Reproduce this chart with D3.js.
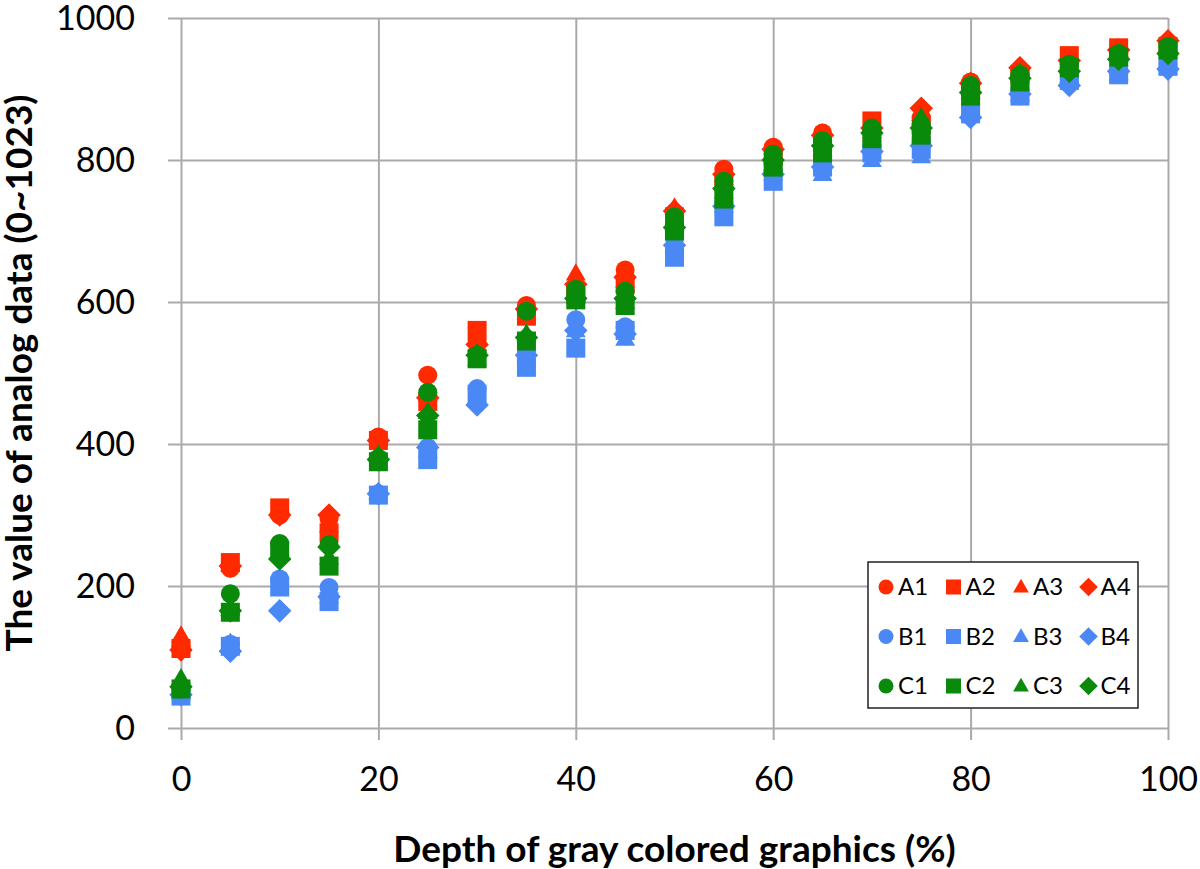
<!DOCTYPE html>
<html><head><meta charset="utf-8">
<script src="https://cdn.jsdelivr.net/npm/d3@7"></script>
<style>body{margin:0;background:#fff;} svg{display:block;}</style>
</head><body>
<svg id="chart" width="1200" height="869"></svg>
<script>
const depth = [0,5,10,15,20,25,30,35,40,45,50,55,60,65,70,75,80,85,90,95,100];
const A1 = [115,225,300,295,410,497,545,595,620,645,725,787,818,838,845,860,910,925,940,955,965];
const A2 = [112,233,310,275,405,460,560,580,610,625,720,770,805,825,855,850,900,920,947,958,960];
const A3 = [130,230,305,285,408,470,540,585,640,630,733,775,810,830,840,865,905,922,940,955,960];
const A4 = [110,228,300,300,405,465,540,590,625,635,728,780,815,835,845,873,908,930,940,955,968];
const B1 = [48,118,210,198,330,395,478,530,575,565,690,740,785,800,815,830,875,895,915,925,935];
const B2 = [45,115,200,178,328,378,470,508,535,560,663,720,770,790,810,815,865,890,912,920,932];
const B3 = [50,120,195,185,332,390,465,525,560,548,680,735,780,780,800,805,868,893,918,922,930];
const B4 = [47,108,165,185,330,395,455,525,560,555,680,735,780,790,812,820,860,893,905,925,928];
const C1 = [55,189,260,258,380,473,525,587,618,615,720,770,808,827,845,850,905,920,935,950,960];
const C2 = [55,163,250,228,375,420,520,545,603,595,700,745,790,810,830,835,890,910,930,945,955];
const C3 = [70,168,245,240,385,445,520,555,610,600,710,755,795,815,835,860,895,923,932,948,958];
const C4 = [58,165,238,255,378,440,525,550,605,605,705,760,800,820,838,845,895,915,925,942,950];
const seriesNames = ["A1","A2","A3","A4","B1","B2","B3","B4","C1","C2","C3","C4"];
const seriesValues = [A1,A2,A3,A4,B1,B2,B3,B4,C1,C2,C3,C4];
const xTicks = [0,20,40,60,80,100];
const yTicks = [0,200,400,600,800,1000];

const colors = {A:"#ff2a00", B:"#4a88f5", C:"#0a8a0a"};
const shapes = ["circle","square","triangle","diamond"];

function shapePath(shape, s){
  const h = s/2;
  if(shape==="circle") return `M${-h},0A${h},${h} 0 1,0 ${h},0A${h},${h} 0 1,0 ${-h},0Z`;
  if(shape==="square") return `M${-h},${-h}H${h}V${h}H${-h}Z`;
  if(shape==="triangle"){ const t=s*1.05; const th=t*0.866; return `M0,${-th*0.6}L${t/2},${th*0.4}L${-t/2},${th*0.4}Z`; }
  const d = s*0.62; return `M0,${-d}L${d},0L0,${d}L${-d},0Z`;
}

const svg = d3.select("#chart");
const margin = {left:181, right:32, top:18, bottom:141};
const W = 1200, H = 869;
const x = d3.scaleLinear().domain([0,100]).range([margin.left, W-margin.right]);
const y = d3.scaleLinear().domain([0,1000]).range([H-margin.bottom, margin.top]);
const font = "Lato, 'Open Sans', sans-serif";
const grid = "#aaaaaa";

// gridlines with outer ticks
const gx = svg.append("g").attr("transform",`translate(0,${y(0)})`)
  .call(d3.axisBottom(x).tickValues(xTicks).tickFormat(d3.format("d")).tickSizeOuter(0).tickPadding(30));
gx.select(".domain").remove();
gx.selectAll(".tick line").attr("stroke",grid).attr("stroke-width",2).attr("y2",-(y(0)-y(1000))).attr("y1",12);
gx.selectAll("text").attr("font-family",font).attr("font-size",34).attr("fill","#000").attr("dy","0.8em");

const gy = svg.append("g").attr("transform",`translate(${x(0)},0)`)
  .call(d3.axisLeft(y).tickValues(yTicks).tickFormat(d3.format("d")).tickSizeOuter(0).tickPadding(40));
gy.select(".domain").remove();
gy.selectAll(".tick line").attr("stroke",grid).attr("stroke-width",2).attr("x1",-13).attr("x2",x(100)-x(0));
gy.selectAll("text").attr("font-family",font).attr("font-size",34).attr("fill","#000").attr("dy","0.35em");

// points
seriesNames.forEach((name,i)=>{
  const col = colors[name[0]];
  const shp = shapes[i%4];
  svg.append("g").selectAll("path").data(depth.map((d,j)=>({x:d,y:seriesValues[i][j]})))
    .join("path")
    .attr("transform",d=>`translate(${x(d.x)},${y(d.y)})`)
    .attr("d",shapePath(shp,19))
    .attr("fill",col);
});

// axis titles
svg.append("text").attr("x",(x(0)+x(100))/2).attr("y",862)
  .attr("text-anchor","middle").attr("font-family",font).attr("font-weight","bold").attr("font-size",37)
  .text("Depth of gray colored graphics (%)");
svg.append("text").attr("transform",`translate(32,${(y(0)+y(1000))/2}) rotate(-90)`)
  .attr("text-anchor","middle").attr("font-family",font).attr("font-weight","bold").attr("font-size",37)
  .text("The value of analog data (0~1023)");

// legend
const lg = svg.append("g");
lg.append("rect").attr("x",868).attr("y",562).attr("width",270).attr("height",146)
  .attr("fill","#fff").attr("stroke","#222").attr("stroke-width",1.5);
seriesNames.forEach((name,i)=>{
  const col = colors[name[0]];
  const shp = shapes[i%4];
  const row = Math.floor(i/4), c = i%4;
  const cx = 886 + c*67.5, cy = 587 + row*49.5;
  lg.append("path").attr("transform",`translate(${cx},${cy})`).attr("d",shapePath(shp,15)).attr("fill",col);
  lg.append("text").attr("x",cx+12).attr("y",cy).attr("dy","0.35em")
    .attr("font-family",font).attr("font-size",24).attr("fill","#000").text(name);
});
</script>
</body></html>
